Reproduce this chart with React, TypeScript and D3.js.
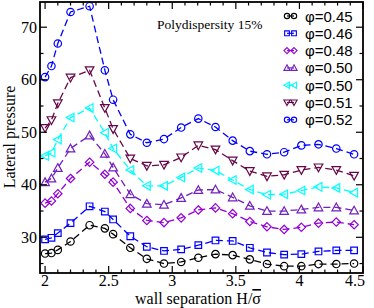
import React, { useEffect, useRef } from 'react';
import * as d3 from 'd3';

// wall separation H/sigma
const separations = [2.0, 2.05, 2.1, 2.2, 2.35, 2.47, 2.535, 2.67, 2.8, 2.935, 3.07, 3.205, 3.34, 3.475, 3.61, 3.745, 3.88, 4.015, 4.15, 4.29, 4.43];

const p045 = [26.9, 27.0, 27.6, 29.2, 32.3, 31.7, 30.6, 28.0, 25.9, 25.0, 25.3, 26.1, 26.8, 26.6, 25.8, 24.9, 24.5, 24.5, 24.9, 24.9, 25.0];
const p046 = [29.6, 29.9, 30.8, 32.7, 35.9, 34.9, 33.4, 30.2, 28.2, 27.4, 27.7, 28.5, 29.4, 29.3, 28.0, 27.1, 26.7, 26.8, 27.3, 27.5, 27.5];
const p048 = [36.5, 36.9, 38.3, 41.2, 44.3, 42.0, 40.5, 35.5, 33.2, 32.8, 33.7, 35.2, 35.6, 34.5, 33.0, 32.0, 31.5, 31.9, 32.7, 32.9, 32.4];
const p050a = [40.5, 41.2, 43.2, 46.9, 49.4, 45.9, 43.3, 38.2, 36.4, 36.2, 37.5, 39.0, 39.1, 37.6, 36.0, 35.0, 35.0, 35.3, 35.7, 35.7, 35.1];
const p050b = [45.5, 46.1, 48.6, 52.8, 54.6, 49.9, 46.9, 42.8, 39.8, 39.8, 41.4, 43.2, 42.7, 40.9, 39.1, 38.1, 38.2, 38.9, 39.6, 39.4, 38.5];
const p051 = [50.8, 52.3, 55.5, 60.4, 61.8, 54.6, 50.6, 45.0, 43.6, 43.8, 45.2, 47.5, 46.7, 44.6, 42.6, 41.6, 41.9, 42.8, 43.3, 42.8, 41.7];
const p052 = [60.5, 62.6, 66.9, 72.9, 74.0, 61.8, 56.2, 49.6, 48.0, 48.7, 50.9, 52.6, 51.0, 48.4, 46.4, 45.8, 46.2, 47.5, 47.7, 46.9, 45.8];

const labels = ['φ=0.45', 'φ=0.46', 'φ=0.48', 'φ=0.50', 'φ=0.50', 'φ=0.51', 'φ=0.52'];
const colors = ['#000000', '#0000ff', '#9400d3', '#7221bc', '#00ffff', '#670748', '#0000ff'];
const shapes = ['circle', 'square', 'diamond', 'up', 'left', 'down', 'circle'];
const seriesValues = [p045, p046, p048, p050a, p050b, p051, p052];

const xMajor = [2, 2.5, 3, 3.5, 4, 4.5];
const yMajor = [30, 40, 50, 60, 70];

// open xmgrace-like symbols, k scales the size
const symbolPath = (shape: string, x: number, y: number, k = 1) => {
  const r = 3.7 * k;
  if (shape === 'circle') {
    return `M${x - r},${y}a${r},${r} 0 1,0 ${2 * r},0a${r},${r} 0 1,0 ${-2 * r},0Z`;
  }
  if (shape === 'square') {
    const s = 3.3 * k;
    return `M${x - s},${y - s}h${2 * s}v${2 * s}h${-2 * s}Z`;
  }
  if (shape === 'diamond') {
    const s = 4.2 * k;
    return `M${x},${y - s}L${x + s},${y}L${x},${y + s}L${x - s},${y}Z`;
  }
  const t = 4.3 * k;
  if (shape === 'up') return `M${x},${y - t}L${x + t},${y + t * 0.8}L${x - t},${y + t * 0.8}Z`;
  if (shape === 'down') return `M${x},${y + t}L${x + t},${y - t * 0.8}L${x - t},${y - t * 0.8}Z`;
  return `M${x - t},${y}L${x + t * 0.8},${y - t}L${x + t * 0.8},${y + t}Z`;
};

const App = () => {
  const ref = useRef<SVGSVGElement>(null);

  useEffect(() => {
    const width = 374;
    const height = 308;
    const margin = { top: 2, right: 11, bottom: 35, left: 40 };

    const svg = d3.select(ref.current);
    svg.selectAll('*').remove();

    const xScale = d3.scaleLinear().domain([1.96, 4.5]).range([margin.left, width - margin.right]);
    const yScale = d3.scaleLinear().domain([23.2, 74.8]).range([height - margin.bottom, margin.top]);

    const x0 = margin.left;
    const x1 = width - margin.right;
    const y0 = height - margin.bottom;
    const y1 = margin.top;

    // series lines + symbols
    seriesValues.forEach((vals, i) => {
      const pts = separations.map((s, j) => [s, vals[j]] as [number, number]);
      const line = d3.line<[number, number]>()
        .x(d => xScale(d[0]))
        .y(d => yScale(d[1]));
      svg.append('path')
        .attr('d', line(pts))
        .attr('fill', 'none')
        .attr('stroke', colors[i])
        .attr('stroke-width', 1.3)
        .attr('stroke-dasharray', '7,4');
      svg.selectAll(`.sym-${i}`)
        .data(pts)
        .enter().append('path')
        .attr('class', `sym-${i}`)
        .attr('d', d => symbolPath(shapes[i], xScale(d[0]), yScale(d[1])))
        .attr('fill', 'none')
        .attr('stroke', colors[i])
        .attr('stroke-width', 1.2);
    });

    // frame
    svg.append('rect')
      .attr('x', x0)
      .attr('y', y1)
      .attr('width', x1 - x0)
      .attr('height', y0 - y1)
      .attr('fill', 'none')
      .attr('stroke', '#000')
      .attr('stroke-width', 1.8);

    // ticks, pointing inward on all four sides
    const xMinor = d3.range(20, 46).map(d => d / 10).filter(d => !xMajor.some(m => Math.abs(m - d) < 1e-6));
    const yMinor = [25, 35, 45, 55, 65];
    const tickG = svg.append('g').attr('stroke', '#000').attr('stroke-width', 1.2);
    const xTick = (v: number, len: number) => {
      tickG.append('line').attr('x1', xScale(v)).attr('x2', xScale(v)).attr('y1', y0).attr('y2', y0 - len);
      tickG.append('line').attr('x1', xScale(v)).attr('x2', xScale(v)).attr('y1', y1).attr('y2', y1 + len);
    };
    const yTick = (v: number, len: number) => {
      tickG.append('line').attr('y1', yScale(v)).attr('y2', yScale(v)).attr('x1', x0).attr('x2', x0 + len);
      tickG.append('line').attr('y1', yScale(v)).attr('y2', yScale(v)).attr('x1', x1).attr('x2', x1 - len);
    };
    xMajor.forEach(v => xTick(v, 7));
    xMinor.forEach(v => xTick(v, 3.5));
    yMajor.forEach(v => yTick(v, 7));
    yMinor.forEach(v => yTick(v, 3.5));

    const serif = '"Liberation Serif", "Times New Roman", serif';
    const sans = '"Liberation Sans", Arial, sans-serif';

    // tick labels
    svg.selectAll('.xlab')
      .data(xMajor)
      .enter().append('text')
      .attr('class', 'xlab')
      .attr('x', d => Math.min(xScale(d), 355))
      .attr('y', y0 + 13)
      .attr('text-anchor', 'middle')
      .style('font-family', serif)
      .style('font-size', '16px')
      .text(d => `${d}`);

    svg.selectAll('.ylab')
      .data(yMajor)
      .enter().append('text')
      .attr('class', 'ylab')
      .attr('x', x0 - 3)
      .attr('y', d => yScale(d) + 5.5)
      .attr('text-anchor', 'end')
      .style('font-family', serif)
      .style('font-size', '16px')
      .text(d => `${d}`);

    // axis titles
    const xt = svg.append('text')
      .attr('x', 198)
      .attr('y', 304)
      .attr('text-anchor', 'middle')
      .style('font-family', serif)
      .style('font-size', '16px');
    xt.append('tspan').text('wall separation H/');
    xt.append('tspan').style('text-decoration', 'overline').text('σ');

    svg.append('text')
      .attr('transform', `translate(15, 137) rotate(-90)`)
      .attr('text-anchor', 'middle')
      .style('font-family', serif)
      .style('font-size', '16px')
      .text('Lateral pressure');

    svg.append('text')
      .attr('x', 157)
      .attr('y', 29)
      .style('font-family', serif)
      .style('font-size', '13.5px')
      .text('Polydispersity 15%');

    // legend
    labels.forEach((lab, i) => {
      const ly = 16 + i * 17.3;
      svg.append('line')
        .attr('x1', 287).attr('x2', 294)
        .attr('y1', ly).attr('y2', ly)
        .attr('stroke', colors[i]).attr('stroke-width', 1.2);
      [287, 294].forEach(lx => {
        svg.append('path')
          .attr('d', symbolPath(shapes[i], lx, ly, 0.72))
          .attr('fill', 'none')
          .attr('stroke', colors[i])
          .attr('stroke-width', 1.1);
      });
      svg.append('text')
        .attr('x', 305)
        .attr('y', ly + 5.5)
        .style('font-family', sans)
        .style('font-size', '15px')
        .text(lab);
    });
  }, []);

  return (
    <div style={{ position: 'absolute', left: 0, top: 0 }}>
      <svg ref={ref} width={374} height={308} style={{ display: 'block', background: '#fff' }} />
    </div>
  );
};

export default App;
